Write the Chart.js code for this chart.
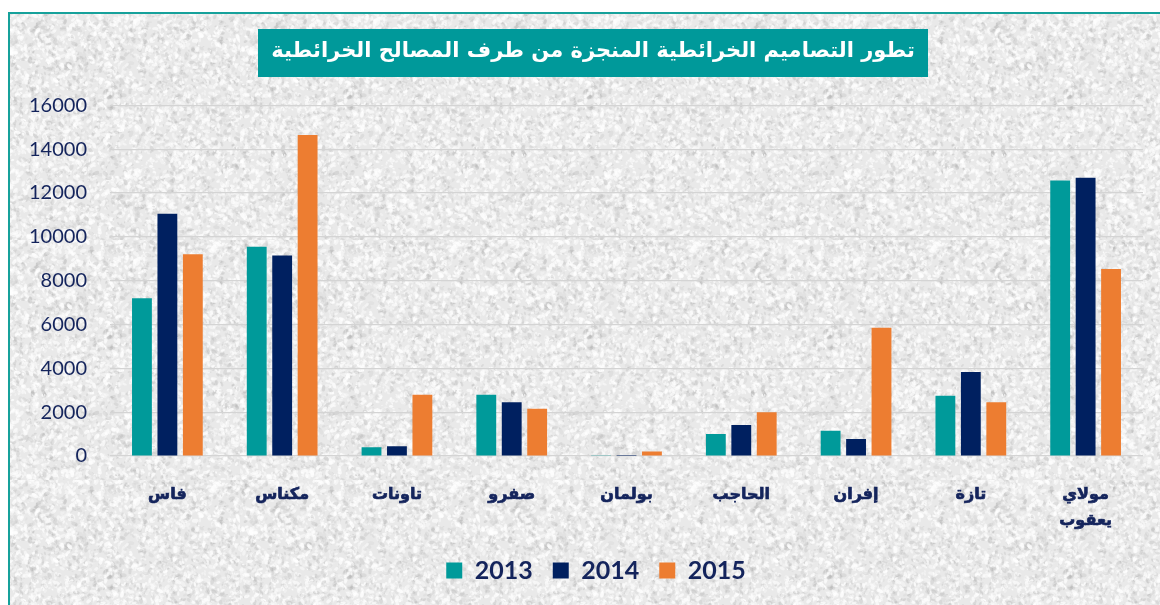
<!DOCTYPE html>
<html lang="ar">
<head>
<meta charset="utf-8">
<title>تطور التصاميم الخرائطية</title>
<script src="https://cdn.jsdelivr.net/npm/chart.js@4.4.1/dist/chart.umd.min.js"></script>
<style>
  html, body { margin: 0; padding: 0; background: #ffffff; }
  #wrap { width: 1160px; height: 605px; }
</style>
</head>
<body>
<div id="wrap"><canvas id="chart" width="1160" height="605"></canvas></div>
<script>
// Provinces (x axis)
const categories = ['فاس', 'مكناس', 'تاونات', 'صفرو', 'بولمان', 'الحاجب', 'إفران', 'تازة', ['مولاي', 'يعقوب']];
// Number of plans produced per year
const values2013 = [7200, 9550, 400, 2800, 30, 1000, 1150, 2750, 12570];
const values2014 = [11050, 9150, 450, 2450, 40, 1420, 770, 3830, 12700];
const values2015 = [9200, 14650, 2800, 2150, 200, 2000, 5850, 2450, 8530];
const seriesLabels = ['2013', '2014', '2015'];
// Y axis ticks
const yMin = 0, yMax = 16000, yStep = 2000;
const titleText = 'تطور التصاميم الخرائطية المنجزة من طرف المصالح الخرائطية';

const TEAL = '#009a9a', NAVY = '#002060', ORANGE = '#ed7d31';
const INK = '#14245c';

// Fine speckled paper texture for the panel background
function makeTexture() {
  const c = document.createElement('canvas');
  c.width = 240; c.height = 240;
  const g = c.getContext('2d');
  g.fillStyle = '#e9e9e9';
  g.fillRect(0, 0, 240, 240);
  let s = 987654321;
  const next = () => { s = (s * 1103515245 + 12345) % 2147483648; return s / 2147483648; };
  for (let i = 0; i < 6000; i++) {
    const x = next() * 240, y = next() * 240, r = 0.5 + next() * 1.5;
    const light = next() < 0.6;
    const a = light ? 0.3 + next() * 0.45 : 0.08 + next() * 0.18;
    g.fillStyle = light ? `rgba(255,255,255,${a})` : `rgba(160,160,160,${a})`;
    g.beginPath();
    g.ellipse(x, y, r * 1.8, r, next() * Math.PI, 0, Math.PI * 2);
    g.fill();
  }
  return c;
}
const texture = makeTexture();

const panelPlugin = {
  id: 'panel',
  afterLayout(chart) {
    // place the title band over its banner and nudge the legend row
    const t = chart.titleBlock;
    if (t) { t.left = 258; t.right = 928; t.width = 670; }
    const l = chart.legend;
    if (l) { l.left += 39; l.width = l.right - l.left; }
  },
  beforeDraw(chart) {
    const ctx = chart.ctx;
    ctx.save();
    ctx.fillStyle = '#ffffff';
    ctx.fillRect(0, 0, chart.width, chart.height);
    ctx.fillStyle = ctx.createPattern(texture, 'repeat');
    ctx.fillRect(10, 14, chart.width - 10, chart.height - 14);
    // frame
    ctx.fillStyle = '#16a19b';
    ctx.fillRect(8, 12, chart.width - 8, 2);
    ctx.fillRect(8, 12, 2, chart.height - 12);
    // title banner
    ctx.fillStyle = '#00999a';
    ctx.fillRect(258, 29, 670, 48);
    ctx.restore();
  }
};

new Chart(document.getElementById('chart'), {
  type: 'bar',
  data: {
    labels: categories,
    datasets: [
      { label: seriesLabels[0], data: values2013, backgroundColor: TEAL },
      { label: seriesLabels[1], data: values2014, backgroundColor: NAVY },
      { label: seriesLabels[2], data: values2015, backgroundColor: ORANGE }
    ]
  },
  options: {
    responsive: false,
    animation: false,
    datasets: { bar: { categoryPercentage: 0.665, barPercentage: 0.78, borderWidth: 0 } },
    layout: { padding: { left: 10, right: 17, top: 0, bottom: 12 } },
    plugins: {
      title: {
        display: true,
        text: titleText,
        color: '#ffffff',
        font: { family: '"DejaVu Sans", sans-serif', size: 21, weight: 'bold', lineHeight: 1.3 },
        padding: { top: 38, bottom: 40 }
      },
      legend: {
        position: 'bottom',
        labels: {
          boxWidth: 16,
          boxHeight: 16,
          padding: 20,
          color: INK,
          font: { family: 'Lato, sans-serif', size: 25, weight: 'bold' }
        }
      },
      tooltip: { enabled: false }
    },
    scales: {
      x: {
        grid: { display: false },
        border: { display: false },
        ticks: {
          color: INK,
          padding: 18,
          maxRotation: 0,
          autoSkip: false,
          textStrokeColor: INK,
          textStrokeWidth: 0.7,
          font: { family: '"DejaVu Sans", sans-serif', size: 16, weight: 'bold', lineHeight: 1.6 }
        },
        afterFit(scale) { scale.height = 82; }
      },
      y: {
        min: yMin,
        max: yMax,
        grid: { color: '#d4d4d4', lineWidth: 1.2, drawTicks: false },
        border: { display: false },
        ticks: {
          stepSize: yStep,
          color: INK,
          padding: 23,
          font: { family: 'Lato, sans-serif', size: 20 },
          callback: (v) => String(v)
        },
        afterFit(scale) { scale.width = 100; }
      }
    }
  },
  plugins: [panelPlugin]
});
</script>
</body>
</html>
